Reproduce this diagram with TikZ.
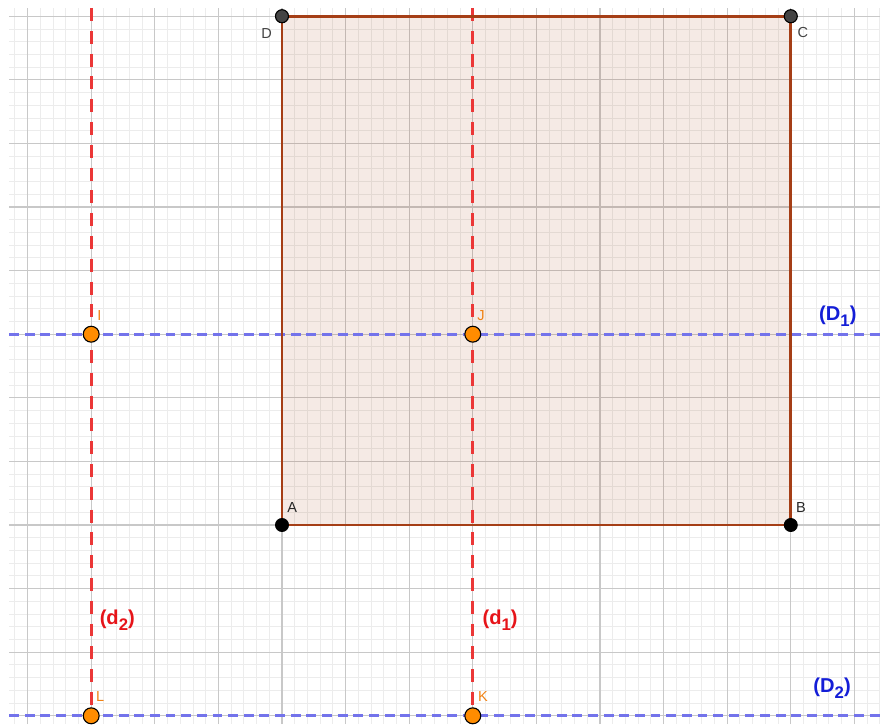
\documentclass[tikz,border=0pt]{standalone}
\usepackage{fontspec}
\setmainfont{Liberation Sans}
\usepackage{tikz}
\usetikzlibrary{calc,backgrounds,positioning}
\definecolor{sqbrown}{RGB}{153,51,0}
\definecolor{sqedge}{RGB}{165,62,22}
\definecolor{redline}{RGB}{235,55,55}
\definecolor{blueline}{RGB}{115,115,235}
\definecolor{bluetext}{RGB}{20,30,215}
\definecolor{redtext}{RGB}{230,20,25}
\definecolor{ptorange}{RGB}{255,140,0}
\definecolor{lborange}{RGB}{240,130,20}
\definecolor{darkpt}{RGB}{68,68,68}
\definecolor{minorcol}{RGB}{236,236,236}
\definecolor{majorcol}{RGB}{200,200,200}
\newcommand{\dotsize}{0.205cm}
\newcommand{\ptsize}{0.25cm}
\newcommand{\lsub}[1]{\raisebox{-0.3em}{\fontsize{7.5}{7.5}\selectfont #1}}
\tikzstyle{vertex}=[draw=black, circle, fill=black, minimum width=\dotsize, inner sep=0]
\tikzstyle{corner}=[draw=black, circle, fill=darkpt, minimum width=\dotsize, inner sep=0, line width=0.5pt]
\tikzstyle{inter}=[draw=black, circle, fill=ptorange, minimum width=\ptsize, inner sep=0, line width=0.5pt]
\tikzstyle{ptlabel}=[font=\fontsize{6.5}{7}\selectfont, inner sep=0]
\tikzstyle{linelabel}=[font=\fontsize{9}{10}\selectfont\bfseries, inner sep=0]
\tikzstyle{minorgrid}=[line width=0.4pt, minorcol]
\tikzstyle{majorgrid}=[line width=0.6pt, majorcol]
\tikzstyle{side}=[line width=1.3pt, sqedge, line join=miter]
\tikzstyle{vline}=[line width=1.3pt, redline, dash pattern=on 5.8pt off 4.4pt]
\tikzstyle{hline}=[line width=1.2pt, blueline, dash pattern=on 4.4pt off 2.6pt]

\begin{document}
\begin{tikzpicture}
  \useasboundingbox (-4.434,-3.129) rectangle (9.403,8.255);

  % grid
  \draw[minorgrid, step=0.2] (-4.29,-3.129) grid (9.403,8.13);
  \draw[majorgrid, step=1] (-4.29,-3.129) grid (9.403,8.13);

  \coordinate (A) at (0,0);
  \coordinate (B) at (8,0);
  \coordinate (C) at (8,8);
  \coordinate (D) at (0,8);

  \fill[sqbrown, fill opacity=0.1] (A) -- (B) -- (C) -- (D) -- cycle;

  % lines
  \coordinate (d1top) at (3,8.13);
  \coordinate (d1bot) at (3,-3.129);
  \coordinate (d2top) at (-3,8.13);
  \coordinate (d2bot) at (-3,-3.129);
  \coordinate (D1left) at (-4.29,3);
  \coordinate (D1right) at (9.403,3);
  \coordinate (D2left) at (-4.29,-3);
  \coordinate (D2right) at (9.403,-3);

  \draw[vline] (d1top) -- (d1bot);
  \draw[vline] (d2top) -- (d2bot);
  \draw[hline] (D1left) -- (D1right);
  \draw[hline] (D2left) -- (D2right);

  \draw[side] (A) -- (B) -- (C) -- (D) -- cycle;

  % points
  \node[vertex] (Apt) at (A) {};
  \node[vertex] (Bpt) at (B) {};
  \node[corner] (Cpt) at (C) {};
  \node[corner] (Dpt) at (D) {};
  \node[inter] (I) at (-3,3) {};
  \node[inter] (J) at (3,3) {};
  \node[inter] (K) at (3,-3) {};
  \node[inter] (L) at (-3,-3) {};

  % labels
  \node[ptlabel, black!85] (lA) at (0.16,0.27) {A};
  \node[ptlabel, black!85] (lB) at (8.16,0.27) {B};
  \node[ptlabel, darkpt] (lC) at (8.19,7.74) {C};
  \node[ptlabel, darkpt] (lD) at (-0.24,7.73) {D};
  \node[ptlabel, lborange] (lI) at (-2.87,3.30) {I};
  \node[ptlabel, lborange] (lJ) at (3.13,3.30) {J};
  \node[ptlabel, lborange] (lK) at (3.16,-2.70) {K};
  \node[ptlabel, lborange] (lL) at (-2.86,-2.70) {L};

  \node[linelabel, bluetext] (lD1) at (8.74,3.29) {(D\lsub{1})};
  \node[linelabel, bluetext] (lD2) at (8.65,-2.57) {(D\lsub{2})};
  \node[linelabel, redtext] (ld1) at (3.43,-1.49) {(d\lsub{1})};
  \node[linelabel, redtext] (ld2) at (-2.59,-1.49) {(d\lsub{2})};
\end{tikzpicture}
\end{document}
